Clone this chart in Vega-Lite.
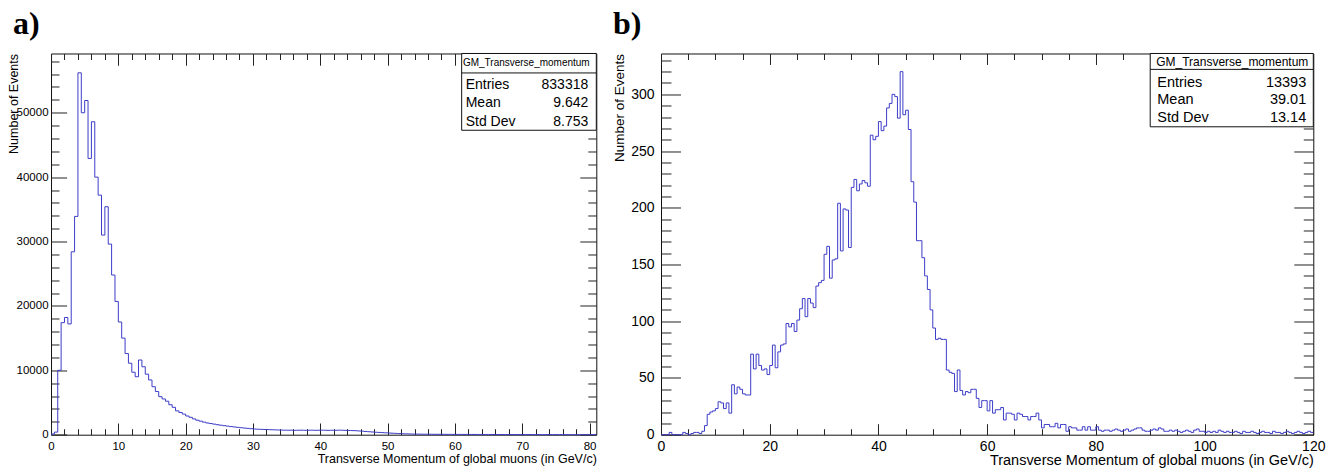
{
  "$schema": "https://vega.github.io/schema/vega-lite/v6.json",
  "autosize": {"type": "pad"},
  "padding": {"left": 6, "top": 7.5, "right": 5, "bottom": 2},
  "bounds": "flush",
  "spacing": 64,
  "background": "white",
  "config": {
    "view": {"stroke": "#111111", "strokeWidth": 1},
    "font": "Liberation Sans",
    "axis": {"grid": false, "domain": false, "minExtent": 0, "labelFont": "Liberation Sans", "titleFont": "Liberation Sans", "labelColor": "#000000", "titleColor": "#000000", "tickColor": "#222222", "titleFontWeight": "normal", "labelOverlap": false, "labelFlush": false, "tickWidth": 1, "format": "d"}
  },
  "datasets": {
    "histA": [
      {"pt":0,"n":100},{"pt":0.5,"n":400},{"pt":1,"n":10000},{"pt":1.5,"n":17400},{"pt":2,"n":18200},{"pt":2.5,"n":17200},{"pt":3,"n":28400},{"pt":3.5,"n":33900},{"pt":4,"n":56200},{"pt":4.5,"n":50000},{"pt":5,"n":51900},{"pt":5.5,"n":42900},{"pt":6,"n":48600},{"pt":6.5,"n":40000},{"pt":7,"n":37200},{"pt":7.5,"n":31000},{"pt":8,"n":35400},{"pt":8.5,"n":29600},{"pt":9,"n":24800},{"pt":9.5,"n":20700},{"pt":10,"n":17500},{"pt":10.5,"n":15000},{"pt":11,"n":12600},{"pt":11.5,"n":11100},{"pt":12,"n":9700},{"pt":12.5,"n":9000},{"pt":13,"n":11600},{"pt":13.5,"n":10550},{"pt":14,"n":9400},{"pt":14.5,"n":8500},{"pt":15,"n":7450},{"pt":15.5,"n":6700},{"pt":16,"n":5900},{"pt":16.5,"n":5550},{"pt":17,"n":5200},{"pt":17.5,"n":4650},{"pt":18,"n":4250},{"pt":18.5,"n":3700},{"pt":19,"n":3450},{"pt":19.5,"n":3200},{"pt":20,"n":2900},{"pt":20.5,"n":2700},{"pt":21,"n":2450},{"pt":21.5,"n":2250},{"pt":22,"n":2100},{"pt":22.5,"n":1950},{"pt":23,"n":1820},{"pt":23.5,"n":1730},{"pt":24,"n":1640},{"pt":24.5,"n":1550},{"pt":25,"n":1470},{"pt":25.5,"n":1400},{"pt":26,"n":1330},{"pt":26.5,"n":1260},{"pt":27,"n":1200},{"pt":27.5,"n":1140},{"pt":28,"n":1080},{"pt":28.5,"n":1030},{"pt":29,"n":980},{"pt":29.5,"n":930},{"pt":30,"n":880},{"pt":30.5,"n":850},{"pt":31,"n":830},{"pt":31.5,"n":800},{"pt":32,"n":790},{"pt":32.5,"n":770},{"pt":33,"n":750},{"pt":33.5,"n":730},{"pt":34,"n":720},{"pt":34.5,"n":700},{"pt":35,"n":690},{"pt":35.5,"n":700},{"pt":36,"n":680},{"pt":36.5,"n":690},{"pt":37,"n":700},{"pt":37.5,"n":680},{"pt":38,"n":690},{"pt":38.5,"n":700},{"pt":39,"n":680},{"pt":39.5,"n":690},{"pt":40,"n":700},{"pt":40.5,"n":690},{"pt":41,"n":670},{"pt":41.5,"n":690},{"pt":42,"n":680},{"pt":42.5,"n":700},{"pt":43,"n":690},{"pt":43.5,"n":670},{"pt":44,"n":660},{"pt":44.5,"n":640},{"pt":45,"n":620},{"pt":45.5,"n":580},{"pt":46,"n":540},{"pt":46.5,"n":500},{"pt":47,"n":460},{"pt":47.5,"n":420},{"pt":48,"n":380},{"pt":48.5,"n":350},{"pt":49,"n":320},{"pt":49.5,"n":290},{"pt":50,"n":260},{"pt":50.5,"n":230},{"pt":51,"n":200},{"pt":51.5,"n":170},{"pt":52,"n":150},{"pt":52.5,"n":130},{"pt":53,"n":115},{"pt":53.5,"n":100},{"pt":54,"n":95},{"pt":54.5,"n":85},{"pt":55,"n":80},{"pt":55.5,"n":75},{"pt":56,"n":70},{"pt":56.5,"n":65},{"pt":57,"n":60},{"pt":57.5,"n":58},{"pt":58,"n":55},{"pt":58.5,"n":52},{"pt":59,"n":50},{"pt":59.5,"n":48},{"pt":60,"n":45},{"pt":60.5,"n":44},{"pt":61,"n":42},{"pt":61.5,"n":40},{"pt":62,"n":40},{"pt":62.5,"n":38},{"pt":63,"n":36},{"pt":63.5,"n":35},{"pt":64,"n":34},{"pt":64.5,"n":33},{"pt":65,"n":32},{"pt":65.5,"n":31},{"pt":66,"n":30},{"pt":66.5,"n":29},{"pt":67,"n":28},{"pt":67.5,"n":27},{"pt":68,"n":26},{"pt":68.5,"n":25},{"pt":69,"n":24},{"pt":69.5,"n":23},{"pt":70,"n":22},{"pt":70.5,"n":21},{"pt":71,"n":20},{"pt":71.5,"n":19},{"pt":72,"n":18},{"pt":72.5,"n":17},{"pt":73,"n":16},{"pt":73.5,"n":15},{"pt":74,"n":14},{"pt":74.5,"n":13},{"pt":75,"n":12},{"pt":75.5,"n":11},{"pt":76,"n":10},{"pt":76.5,"n":10},{"pt":77,"n":9},{"pt":77.5,"n":8},{"pt":78,"n":7},{"pt":78.5,"n":6},{"pt":79,"n":5},{"pt":79.5,"n":4},{"pt":80,"n":3},{"pt":80.5,"n":2},{"pt":81,"n":2}
    ],
    "histB": [
      {"pt":0,"n":0},{"pt":0.5,"n":0},{"pt":1,"n":0},{"pt":1.5,"n":2},{"pt":2,"n":0},{"pt":2.5,"n":0},{"pt":3,"n":0},{"pt":3.5,"n":0},{"pt":4,"n":2},{"pt":4.5,"n":1},{"pt":5,"n":0},{"pt":5.5,"n":1},{"pt":6,"n":2},{"pt":6.5,"n":2},{"pt":7,"n":1},{"pt":7.5,"n":3},{"pt":8,"n":8},{"pt":8.5,"n":18},{"pt":9,"n":20},{"pt":9.5,"n":21},{"pt":10,"n":23},{"pt":10.5,"n":29},{"pt":11,"n":28},{"pt":11.5,"n":23},{"pt":12,"n":28},{"pt":12.5,"n":19},{"pt":13,"n":44},{"pt":13.5,"n":36},{"pt":14,"n":42},{"pt":14.5,"n":40},{"pt":15,"n":36},{"pt":15.5,"n":35},{"pt":16,"n":35},{"pt":16.5,"n":71},{"pt":17,"n":58},{"pt":17.5,"n":71},{"pt":18,"n":61},{"pt":18.5,"n":57},{"pt":19,"n":58},{"pt":19.5,"n":53},{"pt":20,"n":61},{"pt":20.5,"n":79},{"pt":21,"n":59},{"pt":21.5,"n":73},{"pt":22,"n":79},{"pt":22.5,"n":80},{"pt":23,"n":98},{"pt":23.5,"n":95},{"pt":24,"n":98},{"pt":24.5,"n":91},{"pt":25,"n":101},{"pt":25.5,"n":111},{"pt":26,"n":120},{"pt":26.5,"n":104},{"pt":27,"n":120},{"pt":27.5,"n":116},{"pt":28,"n":112},{"pt":28.5,"n":131},{"pt":29,"n":134},{"pt":29.5,"n":136},{"pt":30,"n":159},{"pt":30.5,"n":166},{"pt":31,"n":138},{"pt":31.5,"n":154},{"pt":32,"n":155},{"pt":32.5,"n":204},{"pt":33,"n":162},{"pt":33.5,"n":199},{"pt":34,"n":198},{"pt":34.5,"n":165},{"pt":35,"n":218},{"pt":35.5,"n":225},{"pt":36,"n":215},{"pt":36.5,"n":221},{"pt":37,"n":224},{"pt":37.5,"n":222},{"pt":38,"n":219},{"pt":38.5,"n":264},{"pt":39,"n":260},{"pt":39.5,"n":263},{"pt":40,"n":276},{"pt":40.5,"n":268},{"pt":41,"n":272},{"pt":41.5,"n":288},{"pt":42,"n":292},{"pt":42.5,"n":300},{"pt":43,"n":298},{"pt":43.5,"n":279},{"pt":44,"n":320},{"pt":44.5,"n":282},{"pt":45,"n":286},{"pt":45.5,"n":269},{"pt":46,"n":223},{"pt":46.5,"n":205},{"pt":47,"n":171},{"pt":47.5,"n":171},{"pt":48,"n":156},{"pt":48.5,"n":140},{"pt":49,"n":128},{"pt":49.5,"n":110},{"pt":50,"n":94},{"pt":50.5,"n":84},{"pt":51,"n":85},{"pt":51.5,"n":84},{"pt":52,"n":84},{"pt":52.5,"n":57},{"pt":53,"n":55},{"pt":53.5,"n":54},{"pt":54,"n":38},{"pt":54.5,"n":57},{"pt":55,"n":39},{"pt":55.5,"n":35},{"pt":56,"n":38},{"pt":56.5,"n":37},{"pt":57,"n":40},{"pt":57.5,"n":40},{"pt":58,"n":32},{"pt":58.5,"n":24},{"pt":59,"n":30},{"pt":59.5,"n":30},{"pt":60,"n":21},{"pt":60.5,"n":30},{"pt":61,"n":19},{"pt":61.5,"n":22},{"pt":62,"n":22},{"pt":62.5,"n":24},{"pt":63,"n":13},{"pt":63.5,"n":19},{"pt":64,"n":19},{"pt":64.5,"n":18},{"pt":65,"n":13},{"pt":65.5,"n":19},{"pt":66,"n":18},{"pt":66.5,"n":16},{"pt":67,"n":16},{"pt":67.5,"n":13},{"pt":68,"n":16},{"pt":68.5,"n":16},{"pt":69,"n":19},{"pt":69.5,"n":13},{"pt":70,"n":6},{"pt":70.5,"n":9},{"pt":71,"n":9},{"pt":71.5,"n":7},{"pt":72,"n":7},{"pt":72.5,"n":10},{"pt":73,"n":6},{"pt":73.5,"n":9},{"pt":74,"n":9},{"pt":74.5,"n":3},{"pt":75,"n":7},{"pt":75.5,"n":6},{"pt":76,"n":6},{"pt":76.5,"n":4},{"pt":77,"n":4},{"pt":77.5,"n":7},{"pt":78,"n":4},{"pt":78.5,"n":7},{"pt":79,"n":4},{"pt":79.5,"n":4},{"pt":80,"n":7},{"pt":80.5,"n":4},{"pt":81,"n":3},{"pt":81.5,"n":4},{"pt":82,"n":4},{"pt":82.5,"n":3},{"pt":83,"n":4},{"pt":83.5,"n":5},{"pt":84,"n":4},{"pt":84.5,"n":3},{"pt":85,"n":4},{"pt":85.5,"n":5},{"pt":86,"n":3},{"pt":86.5,"n":4},{"pt":87,"n":5},{"pt":87.5,"n":6},{"pt":88,"n":6},{"pt":88.5,"n":4},{"pt":89,"n":3},{"pt":89.5,"n":3},{"pt":90,"n":4},{"pt":90.5,"n":5},{"pt":91,"n":4},{"pt":91.5,"n":6},{"pt":92,"n":5},{"pt":92.5,"n":3},{"pt":93,"n":3},{"pt":93.5,"n":4},{"pt":94,"n":3},{"pt":94.5,"n":4},{"pt":95,"n":3},{"pt":95.5,"n":2},{"pt":96,"n":3},{"pt":96.5,"n":4},{"pt":97,"n":3},{"pt":97.5,"n":2},{"pt":98,"n":4},{"pt":98.5,"n":5},{"pt":99,"n":3},{"pt":99.5,"n":3},{"pt":100,"n":2},{"pt":100.5,"n":3},{"pt":101,"n":2},{"pt":101.5,"n":3},{"pt":102,"n":2},{"pt":102.5,"n":4},{"pt":103,"n":3},{"pt":103.5,"n":2},{"pt":104,"n":3},{"pt":104.5,"n":2},{"pt":105,"n":2},{"pt":105.5,"n":3},{"pt":106,"n":2},{"pt":106.5,"n":1},{"pt":107,"n":3},{"pt":107.5,"n":2},{"pt":108,"n":2},{"pt":108.5,"n":3},{"pt":109,"n":2},{"pt":109.5,"n":1},{"pt":110,"n":2},{"pt":110.5,"n":3},{"pt":111,"n":2},{"pt":111.5,"n":2},{"pt":112,"n":1},{"pt":112.5,"n":3},{"pt":113,"n":2},{"pt":113.5,"n":2},{"pt":114,"n":1},{"pt":114.5,"n":2},{"pt":115,"n":3},{"pt":115.5,"n":2},{"pt":116,"n":1},{"pt":116.5,"n":2},{"pt":117,"n":3},{"pt":117.5,"n":2},{"pt":118,"n":1},{"pt":118.5,"n":2},{"pt":119,"n":3},{"pt":119.5,"n":2},{"pt":120,"n":2}
    ],
    "statsA": [{"name": "GM_Transverse_momentum", "labels": ["Entries", "Mean", "Std Dev"], "vals": ["833318", "9.642", "8.753"]}],
    "statsB": [{"name": "GM_Transverse_momentum", "labels": ["Entries", "Mean", "Std Dev"], "vals": ["13393", "39.01", "13.14"]}]
  },
  "hconcat": [
    {
      "width": 545.3,
      "height": 381.2,
      "title": {"text": "a)", "anchor": "start", "frame": "group", "dx": -38, "offset": -13, "font": "Liberation Serif", "fontSize": 32, "fontWeight": "bold", "color": "#000000", "baseline": "alphabetic"},
      "resolve": {"axis": {"x": "independent", "y": "independent"}},
      "layer": [
        {
          "data": {"name": "histA"},
          "mark": {"type": "line", "interpolate": "step-after", "color": "#3c3cc8", "strokeWidth": 1},
          "encoding": {
            "x": {"field": "pt", "type": "quantitative", "scale": {"domain": [0, 81], "nice": false, "zero": false},
              "axis": {"orient": "bottom", "values": [0,2,4,6,8,10,12,14,16,18,20,22,24,26,28,30,32,34,36,38,40,42,44,46,48,50,52,54,56,58,60,62,64,66,68,70,72,74,76,78,80],
                "labelExpr": "datum.value % 10 === 0 ? datum.label : ''",
                "tickSize": {"condition": {"test": "datum.value % 10 === 0", "value": -11.7}, "value": -6},
                "labelPadding": 17.7, "labelFontSize": 11.5,
                "title": "Transverse Momentum of global muons (in GeV/c)", "titleAnchor": "end", "titleFontSize": 12.5, "titlePadding": -5}},
            "y": {"field": "n", "type": "quantitative", "scale": {"domain": [0, 59200], "nice": false, "zero": false},
              "axis": {"orient": "left", "values": [0,2000,4000,6000,8000,10000,12000,14000,16000,18000,20000,22000,24000,26000,28000,30000,32000,34000,36000,38000,40000,42000,44000,46000,48000,50000,52000,54000,56000,58000],
                "labelExpr": "datum.value % 10000 === 0 ? datum.label : ''",
                "tickSize": {"condition": {"test": "datum.value % 10000 === 0", "value": -15.6}, "value": -8},
                "labelPadding": 18.6, "labelFontSize": 11.5,
                "title": "Number of Events", "titleAnchor": "end", "titleFontSize": 12.5, "titlePadding": -4}}
          }
        },
        {
          "data": {"name": "statsA"},
          "mark": {"type": "rect", "fill": "#ffffff", "stroke": "#111111", "strokeWidth": 1},
          "encoding": {
            "x": {"datum": 61, "type": "quantitative", "scale": {"domain": [0, 81], "nice": false, "zero": false},
              "axis": {"orient": "top", "values": [0,2,4,6,8,10,12,14,16,18,20,22,24,26,28,30,32,34,36,38,40,42,44,46,48,50,52,54,56,58,60,62,64,66,68,70,72,74,76,78,80], "labels": false, "title": null,
                "tickSize": {"condition": {"test": "datum.value % 10 === 0", "value": -11.7}, "value": -6}}},
            "x2": {"datum": 81},
            "y": {"datum": 59200, "type": "quantitative", "scale": {"domain": [0, 59200], "nice": false, "zero": false},
              "axis": {"orient": "right", "values": [0,2000,4000,6000,8000,10000,12000,14000,16000,18000,20000,22000,24000,26000,28000,30000,32000,34000,36000,38000,40000,42000,44000,46000,48000,50000,52000,54000,56000,58000], "labels": false, "title": null,
                "tickSize": {"condition": {"test": "datum.value % 10000 === 0", "value": -16.5}, "value": -8.5}}},
            "y2": {"datum": 47280}
          }
        },
        {
          "data": {"name": "statsA"},
          "mark": {"type": "rule", "stroke": "#111111", "strokeWidth": 1},
          "encoding": {
            "x": {"datum": 61, "type": "quantitative", "axis": null},
            "x2": {"datum": 81},
            "y": {"datum": 56180, "type": "quantitative", "axis": null}
          }
        },
        {
          "data": {"name": "statsA"},
          "mark": {"type": "text", "font": "Liberation Sans", "fontSize": 10, "align": "center", "baseline": "alphabetic", "color": "#000000"},
          "encoding": {
            "text": {"field": "name"},
            "x": {"datum": 70.6, "type": "quantitative", "axis": null},
            "y": {"datum": 57220, "type": "quantitative", "axis": null}
          }
        },
        {
          "data": {"name": "statsA"},
          "mark": {"type": "text", "lineHeight": 18.9, "font": "Liberation Sans", "fontSize": 14, "align": "left", "baseline": "alphabetic", "color": "#000000"},
          "encoding": {
            "text": {"field": "labels"},
            "x": {"datum": 61.6, "type": "quantitative", "axis": null},
            "y": {"datum": 53760, "type": "quantitative", "axis": null}
          }
        },
        {
          "data": {"name": "statsA"},
          "mark": {"type": "text", "lineHeight": 18.9, "font": "Liberation Sans", "fontSize": 14, "align": "right", "baseline": "alphabetic", "color": "#000000"},
          "encoding": {
            "text": {"field": "vals"},
            "x": {"datum": 79.8, "type": "quantitative", "axis": null},
            "y": {"datum": 53760, "type": "quantitative", "axis": null}
          }
        }
      ]
    },
    {
      "width": 652.3,
      "height": 381.2,
      "title": {"text": "b)", "anchor": "start", "frame": "group", "dx": -48, "offset": -13, "font": "Liberation Serif", "fontSize": 32, "fontWeight": "bold", "color": "#000000", "baseline": "alphabetic"},
      "resolve": {"axis": {"x": "independent", "y": "independent"}},
      "layer": [
        {
          "data": {"name": "histB"},
          "mark": {"type": "line", "interpolate": "step-after", "color": "#3c3cc8", "strokeWidth": 1},
          "encoding": {
            "x": {"field": "pt", "type": "quantitative", "scale": {"domain": [0, 120], "nice": false, "zero": false},
              "axis": {"orient": "bottom", "values": [0,5,10,15,20,25,30,35,40,45,50,55,60,65,70,75,80,85,90,95,100,105,110,115,120],
                "labelExpr": "datum.value % 20 === 0 ? datum.label : ''",
                "tickSize": {"condition": {"test": "datum.value % 20 === 0", "value": -11}, "value": -6},
                "labelPadding": 16, "labelFontSize": 14,
                "title": "Transverse Momentum of global muons (in GeV/c)", "titleAnchor": "end", "titleFontSize": 14.5, "titlePadding": -5}},
            "y": {"field": "n", "type": "quantitative", "scale": {"domain": [0, 336], "nice": false, "zero": false},
              "axis": {"orient": "left", "values": [0,10,20,30,40,50,60,70,80,90,100,110,120,130,140,150,160,170,180,190,200,210,220,230,240,250,260,270,280,290,300,310,320,330],
                "labelExpr": "datum.value % 50 === 0 ? datum.label : ''",
                "tickSize": {"condition": {"test": "datum.value % 50 === 0", "value": -19.5}, "value": -10},
                "labelPadding": 26.5, "labelFontSize": 14,
                "title": "Number of Events", "titleAnchor": "end", "titleFontSize": 13.5, "titlePadding": 4}}
          }
        },
        {
          "data": {"name": "statsB"},
          "mark": {"type": "rect", "fill": "#ffffff", "stroke": "#111111", "strokeWidth": 1},
          "encoding": {
            "x": {"datum": 90, "type": "quantitative", "scale": {"domain": [0, 120], "nice": false, "zero": false},
              "axis": {"orient": "top", "values": [0,5,10,15,20,25,30,35,40,45,50,55,60,65,70,75,80,85,90,95,100,105,110,115,120], "labels": false, "title": null,
                "tickSize": {"condition": {"test": "datum.value % 20 === 0", "value": -11}, "value": -6}}},
            "x2": {"datum": 120},
            "y": {"datum": 336, "type": "quantitative", "scale": {"domain": [0, 336], "nice": false, "zero": false},
              "axis": {"orient": "right", "values": [0,10,20,30,40,50,60,70,80,90,100,110,120,130,140,150,160,170,180,190,200,210,220,230,240,250,260,270,280,290,300,310,320,330], "labels": false, "title": null,
                "tickSize": {"condition": {"test": "datum.value % 50 === 0", "value": -19.5}, "value": -10}}},
            "y2": {"datum": 271.4}
          }
        },
        {
          "data": {"name": "statsB"},
          "mark": {"type": "rule", "stroke": "#111111", "strokeWidth": 1},
          "encoding": {
            "x": {"datum": 90, "type": "quantitative", "axis": null},
            "x2": {"datum": 120},
            "y": {"datum": 322, "type": "quantitative", "axis": null}
          }
        },
        {
          "data": {"name": "statsB"},
          "mark": {"type": "text", "font": "Liberation Sans", "fontSize": 12, "align": "center", "baseline": "alphabetic", "color": "#000000"},
          "encoding": {
            "text": {"field": "name"},
            "x": {"datum": 105.1, "type": "quantitative", "axis": null},
            "y": {"datum": 325, "type": "quantitative", "axis": null}
          }
        },
        {
          "data": {"name": "statsB"},
          "mark": {"type": "text", "lineHeight": 17.5, "font": "Liberation Sans", "fontSize": 14.5, "align": "left", "baseline": "alphabetic", "color": "#000000"},
          "encoding": {
            "text": {"field": "labels"},
            "x": {"datum": 91.3, "type": "quantitative", "axis": null},
            "y": {"datum": 306.7, "type": "quantitative", "axis": null}
          }
        },
        {
          "data": {"name": "statsB"},
          "mark": {"type": "text", "lineHeight": 17.5, "font": "Liberation Sans", "fontSize": 14.5, "align": "right", "baseline": "alphabetic", "color": "#000000"},
          "encoding": {
            "text": {"field": "vals"},
            "x": {"datum": 118.7, "type": "quantitative", "axis": null},
            "y": {"datum": 306.7, "type": "quantitative", "axis": null}
          }
        }
      ]
    }
  ]
}
